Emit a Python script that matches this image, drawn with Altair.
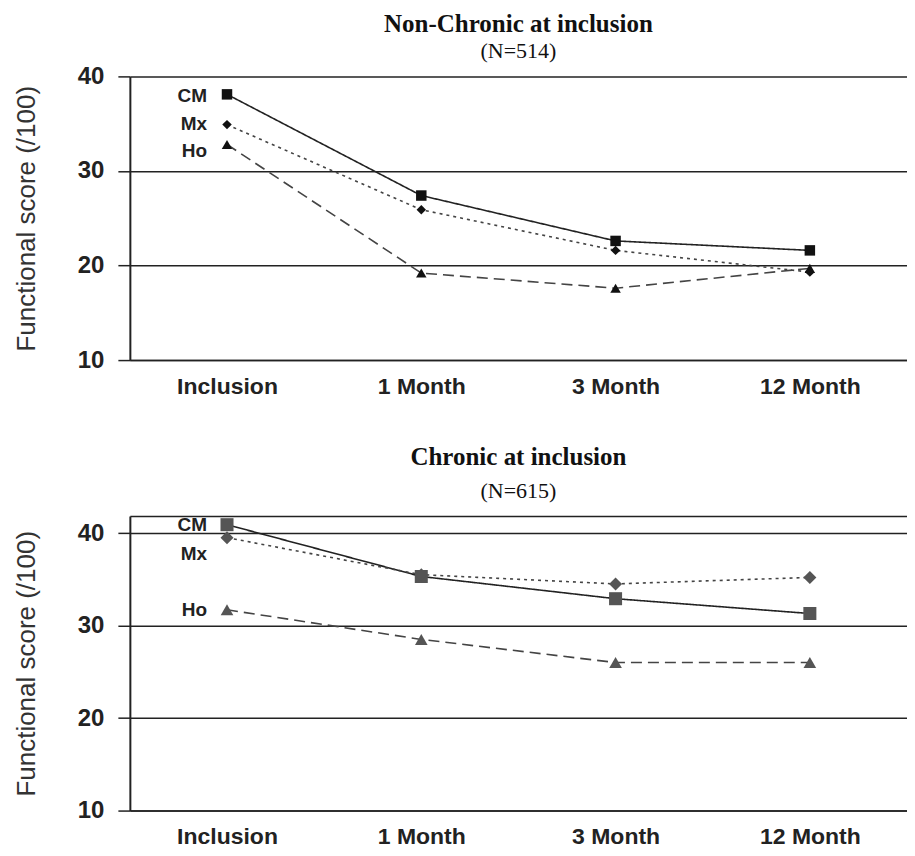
import altair as alt
import pandas as pd

times = ["Inclusion", "1 Month", "3 Month", "12 Month"]
groups = ["CM", "Mx", "Ho"]

nonchronic_cm = [38.1, 27.4, 22.6, 21.6]
nonchronic_mx = [34.9, 25.9, 21.6, 19.3]
nonchronic_ho = [32.8, 19.2, 17.6, 19.7]

chronic_cm = [40.9, 35.3, 32.9, 31.3]
chronic_mx = [39.5, 35.5, 34.5, 35.2]
chronic_ho = [31.7, 28.5, 26.0, 26.0]

nonchronic_label_y = [37.9, 35.0, 32.1]
chronic_label_y = [40.9, 37.7, 31.7]

SANS = "Liberation Sans"
SERIF = "Liberation Serif"


def to_long(cm, mx, ho):
    rows = []
    for g, vals in zip(groups, [cm, mx, ho]):
        for t, v in zip(times, vals):
            rows.append({"time": t, "group": g, "score": v})
    return pd.DataFrame(rows)


def labels_df(ys):
    return pd.DataFrame({"time": [times[0]] * 3, "group": groups, "score": ys})


def panel(df, ldf, title, subtitle, domain, height, yvalues, marker_color,
          sizes, title_offset, sub_pad, line_colors):
    xenc = alt.X("time:N", sort=times,
                 scale=alt.Scale(type="point", domain=times, padding=0.5),
                 axis=alt.Axis(title=None, labelAngle=0, ticks=False, grid=False,
                               domain=True, domainColor="#222", domainWidth=1.5,
                               labelFont=SANS, labelFontWeight="bold",
                               labelFontSize=23, labelPadding=15, labelColor="#222"))
    yaxis = alt.Axis(values=yvalues, grid=True, gridColor="#222", gridWidth=1.5,
                     tickSize=12, tickColor="#222", tickWidth=1.5,
                     tickOpacity=alt.condition("datum.value > 40.5", alt.value(0), alt.value(1)),
                     labelExpr="datum.value > 40.5 ? '' : datum.label",
                     domain=True, domainColor="#222", domainWidth=2,
                     labelFont=SANS, labelFontWeight="bold", labelFontSize=24,
                     labelPadding=14, labelColor="#222",
                     title="Functional score (/100)", titleFont=SANS,
                     titleFontSize=26, titleFontWeight="normal", titleColor="#333",
                     titlePadding=38)
    yenc = alt.Y("score:Q", scale=alt.Scale(domain=domain, nice=False, zero=False),
                 axis=yaxis)
    base = alt.Chart(df)
    lines = base.mark_line(strokeWidth=1.6).encode(
        x=xenc, y=yenc,
        detail="group:N",
        color=alt.Color("group:N", scale=alt.Scale(domain=groups, range=line_colors),
                        legend=None),
        strokeDash=alt.StrokeDash("group:N",
                                  scale=alt.Scale(domain=groups,
                                                  range=[[1, 0], [3, 4], [11, 6]]),
                                  legend=None),
    )
    points = base.mark_point(filled=True, opacity=1, color=marker_color).encode(
        x=alt.X("time:N", sort=times), y="score:Q",
        shape=alt.Shape("group:N",
                        scale=alt.Scale(domain=groups,
                                        range=["square", "diamond", "triangle-up"]),
                        legend=None),
        size=alt.Size("group:N", scale=alt.Scale(type="ordinal", domain=groups,
                                                 range=sizes),
                      legend=None),
    )
    labels = alt.Chart(ldf).mark_text(align="right", baseline="middle", dx=-20,
                                      font=SANS, fontWeight="bold", fontSize=19,
                                      color="#222").encode(
        x=alt.X("time:N", sort=times), y="score:Q", text="group:N")
    return alt.layer(lines, points, labels).properties(
        width=778, height=height,
        title=alt.TitleParams(text=title, subtitle=subtitle, font=SERIF,
                              fontSize=25, fontWeight="bold", color="#111",
                              subtitleFont=SERIF, subtitleFontSize=22,
                              subtitleFontWeight="normal", subtitleColor="#111",
                              subtitlePadding=sub_pad,
                              anchor="middle", frame="group", offset=title_offset),
    ).resolve_scale(size="independent")


top = panel(to_long(nonchronic_cm, nonchronic_mx, nonchronic_ho),
            labels_df(nonchronic_label_y),
            "Non-Chronic at inclusion", "(N=514)", [10, 40], 284,
            [10, 20, 30, 40], "#111", [110, 90, 110], 2, 4,
            ["#222", "#444", "#444"])
bottom = panel(to_long(chronic_cm, chronic_mx, chronic_ho),
               labels_df(chronic_label_y),
               "Chronic at inclusion", "(N=615)", [10, 41.85], 295,
               [10, 20, 30, 40, 41.85], "#555", [170, 170, 160], 14, 11,
               ["#444", "#666", "#555"])

chart = alt.vconcat(top, bottom, spacing=46).properties(
    padding={"left": 5, "right": 0, "top": 4, "bottom": 0}
).configure_view(stroke=None)

chart.save("out.html", embed_options={"renderer": "svg", "actions": False})
